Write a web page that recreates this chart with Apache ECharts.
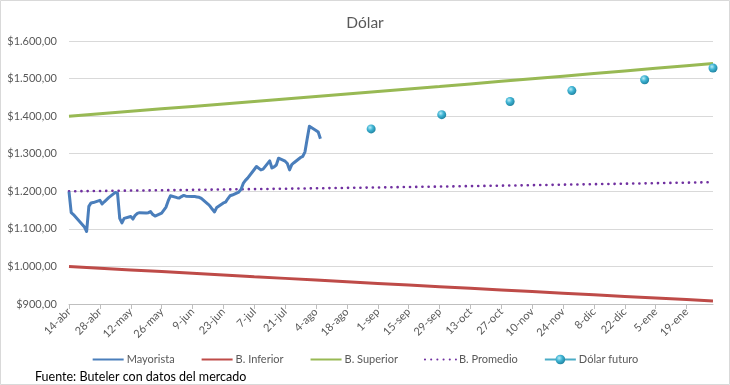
<!DOCTYPE html>
<html>
<head>
<meta charset="utf-8">
<script src="https://cdn.jsdelivr.net/npm/echarts@6/dist/echarts.min.js"></script>
<style>
html,body{margin:0;padding:0;background:#fff;}
#chart{width:730px;height:385px;}
</style>
</head>
<body>
<div id="chart"></div>
<script>
// ---- data ----
const startDate = '2025-04-14';
const endDate = '2026-01-31';
const tickLabels = ['14-abr','28-abr','12-may','26-may','9-jun','23-jun','7-jul','21-jul','4-ago','18-ago','1-sep','15-sep','29-sep','13-oct','27-oct','10-nov','24-nov','8-dic','22-dic','5-ene','19-ene'];

const mayoristaDates = ['2025-04-14','2025-04-15','2025-04-16','2025-04-21','2025-04-22','2025-04-23','2025-04-24','2025-04-25','2025-04-28','2025-04-29','2025-04-30','2025-05-02','2025-05-05','2025-05-06','2025-05-07','2025-05-08','2025-05-09','2025-05-12','2025-05-13','2025-05-14','2025-05-15','2025-05-16','2025-05-19','2025-05-20','2025-05-21','2025-05-22','2025-05-23','2025-05-26','2025-05-27','2025-05-28','2025-05-29','2025-05-30','2025-06-02','2025-06-03','2025-06-04','2025-06-05','2025-06-06','2025-06-09','2025-06-10','2025-06-11','2025-06-12','2025-06-13','2025-06-16','2025-06-17','2025-06-18','2025-06-19','2025-06-20','2025-06-23','2025-06-24','2025-06-25','2025-06-26','2025-06-27','2025-06-30','2025-07-01','2025-07-02','2025-07-03','2025-07-04','2025-07-07','2025-07-08','2025-07-10','2025-07-11','2025-07-14','2025-07-15','2025-07-16','2025-07-17','2025-07-18','2025-07-21','2025-07-22','2025-07-23','2025-07-24','2025-07-25','2025-07-28','2025-07-29','2025-07-30','2025-07-31','2025-08-01','2025-08-04','2025-08-05','2025-08-06'];
const mayoristaValues = [1199,1143,1138,1105,1093,1160,1169,1170,1176,1166,1172,1183,1197,1195,1128,1116,1128,1133,1126,1136,1141,1143,1142,1143,1146,1138,1134,1142,1150,1158,1175,1188,1183,1182,1186,1189,1187,1186,1186,1185,1184,1181,1166,1160,1152,1145,1157,1169,1171,1180,1188,1190,1198,1205,1221,1229,1235,1258,1266,1257,1259,1281,1262,1265,1270,1288,1280,1274,1257,1271,1276,1290,1293,1305,1340,1373,1362,1358,1340];

const bandDates = ['2025-04-14','2025-04-28','2025-05-12','2025-05-26','2025-06-09','2025-06-23','2025-07-07','2025-07-21','2025-08-04','2025-08-18','2025-09-01','2025-09-15','2025-09-29','2025-10-13','2025-10-27','2025-11-10','2025-11-24','2025-12-08','2025-12-22','2026-01-05','2026-01-19','2026-01-31'];
const bandInferior = [1000,995.4,990.8,986.2,981.7,977.2,972.6,968.2,963.7,959.2,954.8,950.4,946.0,941.7,937.3,933.0,928.7,924.4,920.1,915.9,911.7,908.1];
const bandSuperior = [1400,1406.4,1412.9,1419.4,1425.9,1432.4,1439.0,1445.6,1452.2,1458.9,1465.6,1472.3,1479.0,1485.8,1492.6,1499.5,1506.4,1513.3,1520.2,1527.2,1534.2,1540.2];
const bandPromedio = [1200,1200.9,1201.9,1202.8,1203.8,1204.8,1205.8,1206.9,1208.0,1209.1,1210.2,1211.4,1212.5,1213.8,1215.0,1216.3,1217.6,1218.9,1220.2,1221.6,1223.0,1224.2];

const futuroDates = ['2025-08-29','2025-09-30','2025-10-31','2025-11-28','2025-12-31','2026-01-31'];
const futuroValues = [1366,1404,1439,1468,1497,1528];

// ---- helpers ----
const DAY = 86400000;
const dayIndex = d => Math.round((Date.parse(d) - Date.parse(startDate)) / DAY);
const pairs = (dates, vals) => dates.map((d, i) => [dayIndex(d), vals[i]]);
const futuroData = [];
futuroDates.forEach((d, i) => {
  if (i > 0) futuroData.push([dayIndex(d) - 1, '-']);
  futuroData.push([dayIndex(d), futuroValues[i]]);
});
const fmtMoney = v => {
  const s = String(Math.round(v)).replace(/\B(?=(\d{3})+(?!\d))/g, '.');
  return '$' + s + ',00';
};

const FONT = 'Lato, "Open Sans", sans-serif';
const noSym = {opacity: 0};
const chart = echarts.init(document.getElementById('chart'), null, {renderer: 'canvas'});
chart.setOption({
  backgroundColor: '#ffffff',
  animation: false,
  textStyle: {fontFamily: FONT},
  title: {
    text: 'Dólar', left: 'center', top: 10,
    textStyle: {fontFamily: FONT, fontSize: 15.5, fontWeight: 'normal', color: '#595959'}
  },
  grid: {left: 69, right: 17, top: 41, bottom: 81, containLabel: false},
  legend: {
    top: 349, left: 'center', itemWidth: 31, itemHeight: 12, itemGap: 26,
    textStyle: {fontFamily: FONT, fontSize: 11, color: '#595959', padding: [0, 0, 0, -2]},
    data: [
      {name: 'Mayorista', itemStyle: noSym},
      {name: 'B. Inferior', itemStyle: noSym},
      {name: 'B. Superior', itemStyle: noSym},
      {name: 'B. Promedio', itemStyle: noSym},
      {name: 'Dólar futuro'}
    ]
  },
  xAxis: {
    type: 'value', min: 0, max: dayIndex(endDate), interval: 14,
    axisLine: {lineStyle: {color: '#bfbfbf', width: 1}},
    axisTick: {show: true, length: 5, lineStyle: {color: '#bfbfbf'}},
    splitLine: {show: false},
    axisLabel: {
      rotate: 45, fontSize: 11, color: '#595959', margin: 6, fontFamily: FONT,
      showMaxLabel: false,
      formatter: v => (v % 14 === 0 && tickLabels[v / 14]) ? tickLabels[v / 14] : ''
    }
  },
  yAxis: {
    type: 'value', min: 900, max: 1600, interval: 100,
    axisLine: {show: false}, axisTick: {show: false},
    splitLine: {lineStyle: {color: '#d9d9d9', width: 1}},
    axisLabel: {fontSize: 11, color: '#595959', margin: 12, fontFamily: FONT, formatter: fmtMoney}
  },
  series: [
    {
      name: 'Mayorista', type: 'line', symbol: 'none',
      data: pairs(mayoristaDates, mayoristaValues),
      lineStyle: {color: '#4a7ebb', width: 3, join: 'round'},
      itemStyle: {color: '#4a7ebb'}, z: 5
    },
    {
      name: 'B. Inferior', type: 'line', symbol: 'none',
      data: pairs(bandDates, bandInferior),
      lineStyle: {color: '#be4b48', width: 3},
      itemStyle: {color: '#be4b48'}
    },
    {
      name: 'B. Superior', type: 'line', symbol: 'none',
      data: pairs(bandDates, bandSuperior),
      lineStyle: {color: '#98b954', width: 3},
      itemStyle: {color: '#98b954'}
    },
    {
      name: 'B. Promedio', type: 'line', symbol: 'none',
      data: pairs(bandDates, bandPromedio),
      lineStyle: {color: '#7030a0', width: 2.6, type: [0.1, 6.1], cap: 'round'},
      itemStyle: {color: '#7030a0'}
    },
    {
      name: 'Dólar futuro', type: 'line', symbol: 'circle', symbolSize: 9, showSymbol: true,
      connectNulls: false,
      data: futuroData,
      lineStyle: {color: '#4bacc6', width: 3},
      itemStyle: {
        color: new echarts.graphic.RadialGradient(0.38, 0.35, 0.7, [
          {offset: 0, color: '#b9ecf7'},
          {offset: 0.45, color: '#3fb4d4'},
          {offset: 1, color: '#1d7f9c'}
        ])
      },
      z: 6
    }
  ],
  graphic: [
    {type: 'rect', shape: {x: 0.5, y: 0.5, width: 729, height: 384}, style: {fill: 'none', stroke: '#d9d9d9', lineWidth: 1}, silent: true},
    {type: 'text', left: 35, top: 370, style: {text: 'Fuente: Buteler con datos del mercado', font: '12.5px ' + FONT, fill: '#000000'}}
  ]
});
</script>
</body>
</html>
